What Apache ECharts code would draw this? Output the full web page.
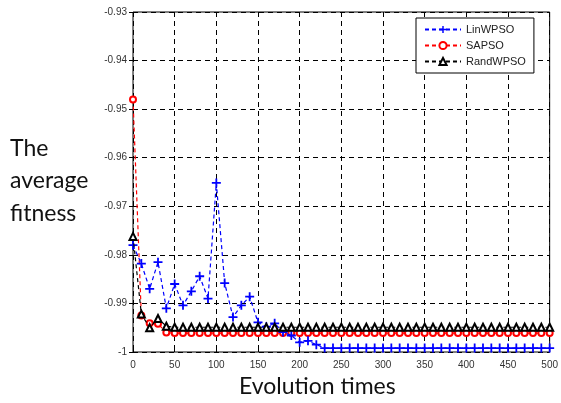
<!DOCTYPE html>
<html><head><meta charset="utf-8">
<script src="https://cdn.jsdelivr.net/npm/echarts@6/dist/echarts.min.js"></script>
<style>html,body{margin:0;padding:0;background:#fff}#c{width:561px;height:403px}</style>
</head><body><div id="c"></div>
<script>
// Iterations (every 10th, where markers are drawn)
const iterations = [0,10,20,30,40,50,60,70,80,90,100,110,120,130,140,150,160,170,180,190,200,210,220,230,240,250,260,270,280,290,300,310,320,330,340,350,360,370,380,390,400,410,420,430,440,450,460,470,480,490,500];
const linWPSO = [-0.978,-0.9818,-0.987,-0.9815,-0.991,-0.986,-0.9904,-0.9875,-0.9844,-0.989,-0.9652,-0.9858,-0.9928,-0.9904,-0.9886,-0.9939,-0.9948,-0.9941,-0.9959,-0.9966,-0.998,-0.9977,-0.9985,-0.9992,-0.9992,-0.9992,-0.9992,-0.9992,-0.9992,-0.9992,-0.9992,-0.9992,-0.9992,-0.9992,-0.9992,-0.9992,-0.9992,-0.9992,-0.9992,-0.9992,-0.9992,-0.9992,-0.9992,-0.9992,-0.9992,-0.9992,-0.9992,-0.9992,-0.9992,-0.9992,-0.9992];
const saPSO = [-0.948,-0.9925,-0.9941,-0.9942,-0.996,-0.9961,-0.9961,-0.9961,-0.9961,-0.9961,-0.9961,-0.9961,-0.9961,-0.9961,-0.9961,-0.9961,-0.9961,-0.9961,-0.9961,-0.9961,-0.9961,-0.9961,-0.9961,-0.9961,-0.9961,-0.9961,-0.9961,-0.9961,-0.9961,-0.9961,-0.9961,-0.9961,-0.9961,-0.9961,-0.9961,-0.9961,-0.9961,-0.9961,-0.9961,-0.9961,-0.9961,-0.9961,-0.9961,-0.9961,-0.9961,-0.9961,-0.9961,-0.9961,-0.9961,-0.9961,-0.9961];
const randWPSO = [-0.9762,-0.9922,-0.995,-0.9931,-0.9947,-0.9949,-0.9949,-0.9949,-0.9949,-0.9949,-0.9949,-0.9949,-0.9949,-0.9949,-0.9949,-0.9949,-0.9949,-0.9949,-0.9949,-0.9949,-0.9949,-0.9949,-0.9949,-0.9949,-0.9949,-0.9949,-0.9949,-0.9949,-0.9949,-0.9949,-0.9949,-0.9949,-0.9949,-0.9949,-0.9949,-0.9949,-0.9949,-0.9949,-0.9949,-0.9949,-0.9949,-0.9949,-0.9949,-0.9949,-0.9949,-0.9949,-0.9949,-0.9949,-0.9949,-0.9949,-0.9949];
const seriesNames = ['LinWPSO','SAPSO','RandWPSO'];
const yTitleLines = ['The','average','fitness'];
const xTitle = 'Evolution times';

const pair = arr => iterations.map((x,i)=>[x,arr[i]]);
const plus = 'path://M4,0h2v4h4v2h-4v4h-2v-4h-4v-2h4z';
const gridLine = {show:true,lineStyle:{color:'#000',type:[5,4],width:1}};
const tickFont = {fontFamily:'Liberation Sans',fontSize:10,color:'#333'};

const chart = echarts.init(document.getElementById('c'));
chart.setOption({
  animation:false,
  grid:{left:133,right:11,top:12,bottom:51,show:true,borderColor:'#000',borderWidth:1,backgroundColor:'#fff'},
  xAxis:[{type:'value',min:0,max:500,interval:50,
    axisLine:{show:false},axisTick:{show:true,inside:true,length:4,lineStyle:{color:'#000'}},
    axisLabel:Object.assign({margin:8},tickFont),splitLine:gridLine},
    {type:'value',position:'top',min:0,max:500,interval:50,axisLine:{show:false},
    axisTick:{show:true,inside:true,length:4,lineStyle:{color:'#000'}},axisLabel:{show:false},splitLine:{show:false}}],
  yAxis:[{type:'value',min:-1,max:-0.93,interval:0.01,
    axisLine:{show:false},axisTick:{show:true,inside:true,length:4,lineStyle:{color:'#000'}},
    axisLabel:Object.assign({margin:6,formatter:v=>Math.abs(v+1)<1e-9?'-1':v.toFixed(2)},tickFont),splitLine:gridLine},
    {type:'value',position:'right',min:-1,max:-0.93,interval:0.01,axisLine:{show:false},
    axisTick:{show:true,inside:true,length:4,lineStyle:{color:'#000'}},axisLabel:{show:false},splitLine:{show:false}}],
  legend:{orient:'vertical',left:416,top:18,padding:[6,8,6,8],itemGap:5,itemWidth:36,itemHeight:9,
    backgroundColor:'#fff',borderColor:'#000',borderWidth:1,borderRadius:0,
    textStyle:{fontFamily:'Liberation Sans',fontSize:11,color:'#222'},
    data:seriesNames},
  series:[
    {name:seriesNames[0],type:'line',data:pair(linWPSO),symbol:plus,symbolSize:9,
      lineStyle:{color:'#0000ff',type:[4,3],width:1.2},itemStyle:{color:'#0000ff'},z:3},
    {name:seriesNames[1],type:'line',data:pair(saPSO),symbol:'emptyCircle',symbolSize:6,
      lineStyle:{color:'#ff0000',type:[4,3],width:1.2},itemStyle:{color:'#ff0000',borderWidth:1},z:2},
    {name:seriesNames[2],type:'line',data:pair(randWPSO),symbol:'emptyTriangle',symbolSize:7,
      lineStyle:{color:'#000',type:[4,3],width:1.2},itemStyle:{color:'#000',borderWidth:1},z:4}
  ],
  graphic:[
    {type:'text',left:10,top:132,style:{text:yTitleLines.join('\n'),font:'23px Lato',lineHeight:32.5,fill:'#111'}},
    {type:'text',left:239,top:375,style:{text:xTitle,font:'23px Lato',fill:'#111'}}
  ]
});
</script></body></html>
